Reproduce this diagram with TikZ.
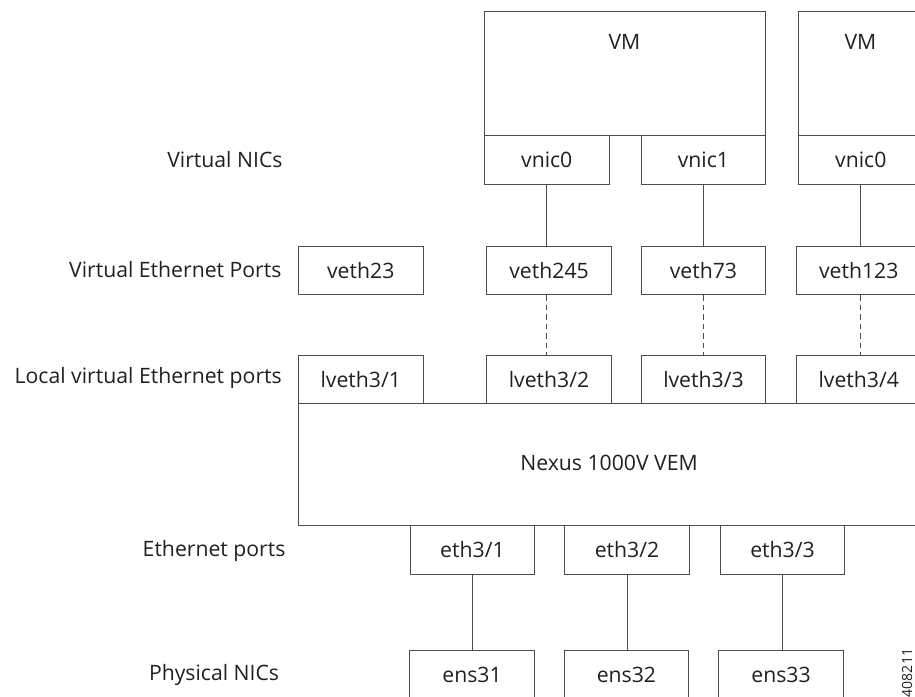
\documentclass[tikz,border=0pt]{standalone}
\usepackage{fontspec}
\setmainfont{Open Sans}
\definecolor{ink}{HTML}{231F20}
\definecolor{edge}{HTML}{4D4D4F}
\begin{document}
\begin{tikzpicture}[x=1pt,y=-1pt,
  every node/.style={text=ink, font=\fontsize{21.2}{24}\selectfont},
  portbox/.style={draw=edge, line width=1pt, minimum width=124.5pt, minimum height=48.6pt,
                  inner sep=0pt, anchor=north west},
  rowlabel/.style={anchor=east, inner sep=0pt},
  wire/.style={draw=edge, line width=1pt},
  vlink/.style={wire, dash pattern=on 5.5pt off 4pt}]
\useasboundingbox (0,0) rectangle (915,696);
\clip (0,0) rectangle (915,696);

% row labels
\node[rowlabel] (lvnic)  at (282.7,159.3) {Virtual NICs};
\node[rowlabel] (lveth)  at (281.7,270.0) {Virtual Ethernet Ports};
\node[rowlabel] (llveth) at (282.0,378.3) {Local virtual Ethernet ports};
\node[rowlabel] (leth)   at (285.7,550.7) {Ethernet ports};
\node[rowlabel] (lphys)  at (279.3,675.0) {Physical NICs};

% virtual machines
\node[portbox, minimum width=281pt, minimum height=124.3pt] (vm1) at (484,10.7) {};
\node at (624.5,41.7) {VM};
\node[portbox, minimum height=124.3pt] (vm2) at (798,10.7) {};
\node at (860.5,41.7) {VM};

% virtual NICs
\node[portbox] (vnicA) at (484,135)   {vnic0};
\node[portbox] (vnicB) at (640.7,135) {vnic1};
\node[portbox] (vnicC) at (798,135)   {vnic0};

% virtual Ethernet ports
\node[portbox] (veth23)  at (298,245.7)   {veth23};
\node[portbox] (veth245) at (486.3,245.7) {veth245};
\node[portbox] (veth73)  at (640.7,245.7) {veth73};
\node[portbox] (veth123) at (796,245.7)   {veth123};

% local virtual Ethernet ports
\node[portbox] (lv1) at (298,354.7)   {lveth3/1};
\node[portbox] (lv2) at (486.3,354.7) {lveth3/2};
\node[portbox] (lv3) at (640.7,354.7) {lveth3/3};
\node[portbox] (lv4) at (796,354.7)   {lveth3/4};

% VEM
\node[portbox, minimum width=622pt, minimum height=121.7pt] (vem) at (298,403.3) {};
\node at (609,463) {Nexus 1000V VEM};

% uplink Ethernet ports
\node[portbox] (eth1) at (409.7,525) {eth3/1};
\node[portbox] (eth2) at (564.3,525) {eth3/2};
\node[portbox] (eth3) at (719.7,525) {eth3/3};

% physical NICs
\node[portbox] (ens1) at (409.3,650) {ens31};
\node[portbox] (ens2) at (563.7,650) {ens32};
\node[portbox] (ens3) at (718.3,650) {ens33};

% connectors
\draw[wire] (vnicA.south) -- (vnicA.south |- veth245.north);
\draw[wire] (vnicB.south) -- (vnicB.south |- veth73.north);
\draw[wire] (vnicC.south) -- (vnicC.south |- veth123.north);
\draw[vlink] (vnicA.south |- veth245.south) -- (vnicA.south |- lv2.north);
\draw[vlink] (vnicB.south |- veth73.south) -- (vnicB.south |- lv3.north);
\draw[vlink] (vnicC.south |- veth123.south) -- (vnicC.south |- lv4.north);
\draw[wire] (eth1.south) -- (eth1.south |- ens1.north);
\draw[wire] (eth2.south) -- (eth2.south |- ens2.north);
\draw[wire] (eth3.south) -- (eth3.south |- ens3.north);

% figure number
\node[rotate=90, font=\fontsize{14}{15}\selectfont] (fignum) at (907,673) {408211};
\end{tikzpicture}
\end{document}
